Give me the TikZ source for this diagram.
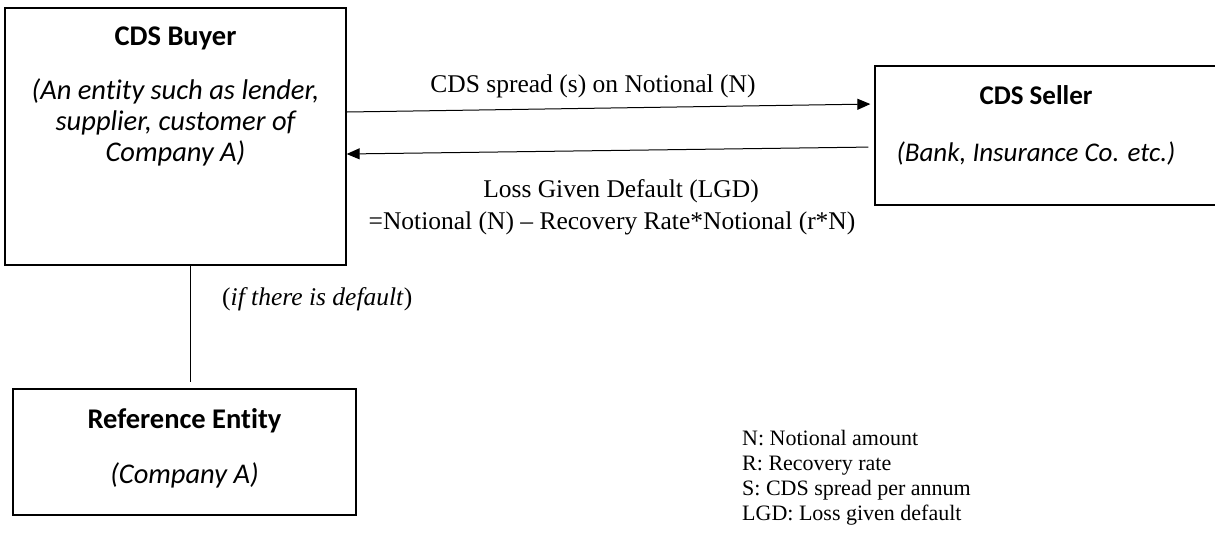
\documentclass[tikz,border=0pt]{standalone}
\usepackage{fontspec}
\setmainfont{Liberation Serif}
\newfontfamily\calibri[Ligatures=NoCommon]{Carlito}
\usetikzlibrary{arrows.meta,positioning}

\tikzset{
	party/.style={draw,line width=1.3pt,inner sep=0pt},
	headtext/.style={font=\calibri\bfseries\fontsize{28.5}{33}\selectfont,anchor=base,inner sep=0pt},
	notetext/.style={font=\calibri\itshape\fontsize{28.5}{33}\selectfont,anchor=base,inner sep=0pt},
	flowtext/.style={font=\fontsize{25.5}{30}\selectfont,anchor=base,inner sep=0pt},
	keytext/.style={font=\fontsize{22}{25}\selectfont,anchor=base west,inner sep=0pt},
}

\begin{document}
\begin{tikzpicture}[x=1pt,y=-1pt,>={Triangle[length=13pt,width=11pt]}]
	\useasboundingbox (0,0) rectangle (1215,558);
	% the three parties
	\node[party,minimum width=341pt,minimum height=257pt] (buyer) at (175.5,136.5) {};
	\node[party,minimum width=343pt,minimum height=139pt] (seller) at (1046.5,135.5) {};
	\node[party,minimum width=343pt,minimum height=126pt] (ref) at (184.5,452) {};

	\node[headtext] (buyerhead) at (175.5,45) {CDS Buyer};
	\foreach \t/\yy [count=\i] in {{(An entity such as lender,}/99,
			{supplier, customer of}/130,
			{Company A)}/161} {
		\node[notetext] (buyernote\i) at (175.5,\yy) {\t};
	};
	\node[headtext,font=\calibri\bfseries\fontsize{27}{32}\selectfont] (sellerhead) at (1036,104) {CDS Seller};
	\node[notetext,font=\calibri\itshape\fontsize{27}{32}\selectfont] (sellernote) at (1036,161) {(Bank, Insurance Co. etc.)};
	\node[headtext] (refhead) at (184.5,428) {Reference Entity};
	\node[notetext] (refnote) at (184.5,483) {(Company A)};

	% payments
	\draw[->,line width=1pt,shorten >=4pt] ([yshift=24.5pt]buyer.east) -- ([yshift=31.5pt]seller.west);
	\draw[->,line width=1pt,shorten <=6pt] ([yshift=-11.5pt]seller.west) -- ([yshift=-17.5pt]buyer.east);
	\node[flowtext] (spread) at (593,92) {CDS spread (s) on Notional (N)};
	\node[flowtext] (lgd) at (621,197) {Loss Given Default (LGD)};
	\node[flowtext] (lgdcalc) at (612,229) {=Notional (N) -- Recovery Rate*Notional (r*N)};

	% link to the reference entity
	\coordinate (tieend) at (190,382);
	\draw[line width=1pt] (buyer.south -| tieend) -- (tieend);
	\node[flowtext,anchor=base west] (ifdefault) at (222,305) {(\textit{if there is default})};

	% key
	\foreach \t [count=\i] in {N: Notional amount, R: Recovery rate,
			S: CDS spread per annum, LGD: Loss given default} {
		\node[keytext] (key\i) at (742,420+25*\i) {\t};
	};
\end{tikzpicture}
\end{document}
